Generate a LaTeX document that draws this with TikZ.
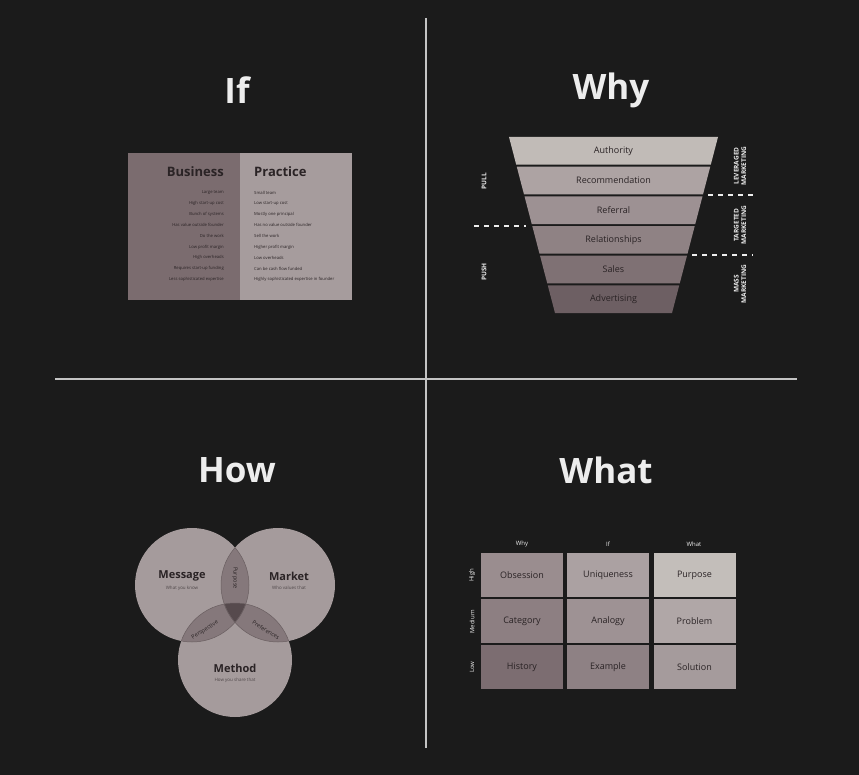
\documentclass[tikz,border=0pt]{standalone}
\usepackage{fontspec}
\setmainfont{Open Sans}
\usetikzlibrary{calc}

\definecolor{bg}{HTML}{1B1B1B}
\definecolor{rule}{HTML}{C4C4C4}
\definecolor{ink}{HTML}{2A2325}
\definecolor{title}{HTML}{EDEDED}
\definecolor{bizdark}{HTML}{7B6C6F}
\definecolor{praclight}{HTML}{A69C9D}
% funnel bands, light to dark
\definecolor{fa}{HTML}{C1BBB7}
\definecolor{fb}{HTML}{ADA3A3}
\definecolor{fc}{HTML}{9D9193}
\definecolor{fd}{HTML}{8F8284}
\definecolor{fe}{HTML}{7F7174}
\definecolor{ff}{HTML}{6D5F63}
% venn
\definecolor{vone}{HTML}{A59B9C}
\definecolor{vtwo}{HTML}{85787B}
\definecolor{vthree}{HTML}{564A4D}
% grid cells
\definecolor{ga}{HTML}{9A8D8F}
\definecolor{gb}{HTML}{ABA1A2}
\definecolor{gc}{HTML}{C3BEBA}
\definecolor{gd}{HTML}{8D7F82}
\definecolor{ge}{HTML}{9E9294}
\definecolor{gf}{HTML}{B0A7A7}
\definecolor{gg}{HTML}{7C6D71}
\definecolor{gh}{HTML}{8E8184}
\definecolor{gi}{HTML}{A59B9C}

\tikzset{
  heading/.style={text=title,font=\bfseries\fontsize{35}{40}\selectfont,inner sep=0pt},
  divider/.style={draw=rule,line width=1.6pt},
  colhead/.style={text=ink,font=\bfseries\fontsize{13}{15}\selectfont,inner sep=0pt},
  tiny/.style={text=ink,font=\fontsize{4.2}{5}\selectfont,inner sep=0pt},
  funtext/.style={text=ink,font=\fontsize{9}{10}\selectfont,inner sep=0pt},
  sidelab/.style={text=title,font=\bfseries\fontsize{6.5}{7.5}\selectfont,rotate=90,inner sep=0pt,align=center},
  cut/.style={draw=title,dashed,dash pattern=on 5pt off 5pt,line width=1.3pt},
  vname/.style={text=ink,font=\bfseries\fontsize{11}{13}\selectfont,inner sep=0pt},
  vsub/.style={text=ink!70!vone,font=\fontsize{4.5}{5}\selectfont,inner sep=0pt},
  vlens/.style={text=ink,font=\fontsize{5.6}{6}\selectfont,inner sep=0pt},
  cell/.style={minimum width=82pt,minimum height=44pt,inner sep=0pt,text=ink,font=\fontsize{9}{10}\selectfont},
  gridhead/.style={text=title,font=\fontsize{6}{7}\selectfont,inner sep=0pt},
}

\begin{document}
\begin{tikzpicture}[x=1pt,y=-1pt]
\fill[bg] (0,0) rectangle (859,775);
\useasboundingbox (0,0) rectangle (859,775);

% quadrant dividers
\coordinate (vtop) at (426,18);
\coordinate (vbot) at (426,748);
\coordinate (hl) at (55,379);
\coordinate (hr) at (797,379);
\draw[divider] (vtop) -- (vbot);
\draw[divider] (hl) -- (hr);

% headings
\node[heading] (tif) at (237,90) {If};
\node[heading] (twhy) at (611,90) {Why};
\node[heading] (thow) at (237,470) {How};
\node[heading] (twhat) at (606,470) {What};

% ---- If: business vs practice table
\fill[bizdark] (128,153) rectangle (240,300);
\fill[praclight] (240,153) rectangle (352,300);
\node[colhead,anchor=east] (biz) at (224,172) {Business};
\node[colhead,anchor=west] (prac) at (254,172) {Practice};
\foreach \i/\b/\p in {
  0/Large team/Small team,
  1/High start-up cost/Low start-up cost,
  2/Bunch of systems/Mostly one principal,
  3/Has value outside founder/Has no value outside founder,
  4/Do the work/Sell the work,
  5/Low profit margin/Higher profit margin,
  6/High overheads/Low overheads,
  7/Requires start-up funding/Can be cash flow funded,
  8/Less sophisticated expertise/Highly sophisticated expertise in founder}{
  \node[tiny,anchor=east] (b\i) at (224,{193+\i*10.8}) {\b};
  \node[tiny,anchor=west] (p\i) at (254,{193+\i*10.8}) {\p};
}

% ---- Why: marketing funnel
\foreach \i/\lab/\col in {0/Authority/fa,1/Recommendation/fb,2/Referral/fc,
                          3/Relationships/fd,4/Sales/fe,5/Advertising/ff}{
  \pgfmathsetmacro\yt{137+\i*29.67}
  \pgfmathsetmacro\yb{\yt+27.67}
  \pgfmathsetmacro\xlt{509+(\yt-137)*0.26136}
  \pgfmathsetmacro\xlb{509+(\yb-137)*0.26136}
  \pgfmathsetmacro\xrt{718-(\yt-137)*0.26136}
  \pgfmathsetmacro\xrb{718-(\yb-137)*0.26136}
  \fill[\col] (\xlt,\yt) -- (\xrt,\yt) -- (\xrb,\yb) -- (\xlb,\yb) -- cycle;
  \node[funtext] (fun\i) at (613.5,{(\yt+\yb)/2}) {\lab};
}
\coordinate (pl) at (474,226);
\coordinate (pr) at (526,226);
\draw[cut] (pl) -- (pr);
\coordinate (la) at (708,195);
\coordinate (lb) at (753,195);
\draw[cut] (la) -- (lb);
\coordinate (ta) at (692,255);
\coordinate (tb) at (753,255);
\draw[cut] (ta) -- (tb);
\node[sidelab] (pull) at (484,181) {PULL};
\node[sidelab] (push) at (484,272) {PUSH};
\node[sidelab] (lev) at (740,166) {LEVERAGED\\MARKETING};
\node[sidelab] (tgt) at (740,225) {TARGETED\\MARKETING};
\node[sidelab] (mass) at (740,284) {MASS\\MARKETING};

% ---- How: three circles
\coordinate (cmsg) at (192,585);
\coordinate (cmkt) at (278,585);
\coordinate (cmth) at (235,660);
\def\R{57}
\fill[vone] (cmsg) circle (\R);
\fill[vone] (cmkt) circle (\R);
\fill[vone] (cmth) circle (\R);
\begin{scope}
  \clip (cmsg) circle (\R);
  \fill[vtwo] (cmkt) circle (\R);
  \fill[vtwo] (cmth) circle (\R);
\end{scope}
\begin{scope}
  \clip (cmkt) circle (\R);
  \fill[vtwo] (cmth) circle (\R);
\end{scope}
\begin{scope}
  \clip (cmsg) circle (\R);
  \clip (cmkt) circle (\R);
  \fill[vthree] (cmth) circle (\R);
\end{scope}
\begin{scope}
  \clip (cmsg) circle (\R) (cmkt) circle (\R);
  \draw[vtwo!70!ink,line width=0.5pt] (cmth) circle (\R);
\end{scope}
\begin{scope}
  \clip (cmth) circle (\R);
  \draw[vtwo!70!ink,line width=0.5pt] (cmsg) circle (\R) (cmkt) circle (\R);
\end{scope}
\begin{scope}
  \clip (cmsg) circle (\R);
  \draw[vtwo!70!ink,line width=0.5pt] (cmkt) circle (\R);
\end{scope}
\begin{scope}
  \clip (cmkt) circle (\R);
  \draw[vtwo!70!ink,line width=0.5pt] (cmsg) circle (\R);
\end{scope}
\node[vname] (msg) at (182,576) {Message};
\node[vsub] (msgs) at (182,588) {What you know};
\node[vname] (mkt) at (289,576) {Market};
\node[vsub] (mkts) at (289,588) {Who values that};
\node[vname] (mth) at (235,668) {Method};
\node[vsub] (mths) at (235,680) {How you share that};
\node[vlens,rotate=-90] (lpur) at (235,578) {Purpose};
\node[vlens,rotate=32] (lper) at (205,630) {Perspective};
\node[vlens,rotate=-32] (lpre) at (266,630) {Preferences};

% ---- What: 3x3 grid
\node[gridhead] (hwho) at (522,544) {Why};
\node[gridhead] (hif) at (608,544) {If};
\node[gridhead] (htot) at (694,544) {What};
\node[gridhead,rotate=90] (rhigh) at (472,575) {High};
\node[gridhead,rotate=90] (rmed) at (472,622) {Medium};
\node[gridhead,rotate=90] (rlow) at (472,667) {Low};
\node[cell,fill=ga] (c11) at (522,575) {Obsession};
\node[cell,fill=gb] (c12) at (608,575) {Uniqueness};
\node[cell,fill=gc] (c13) at (694.5,575) {Purpose};
\node[cell,fill=gd] (c21) at (522,621) {Category};
\node[cell,fill=ge] (c22) at (608,621) {Analogy};
\node[cell,fill=gf] (c23) at (694.5,621) {Problem};
\node[cell,fill=gg] (c31) at (522,667) {History};
\node[cell,fill=gh] (c32) at (608,667) {Example};
\node[cell,fill=gi] (c33) at (694.5,667) {Solution};
\end{tikzpicture}
\end{document}
